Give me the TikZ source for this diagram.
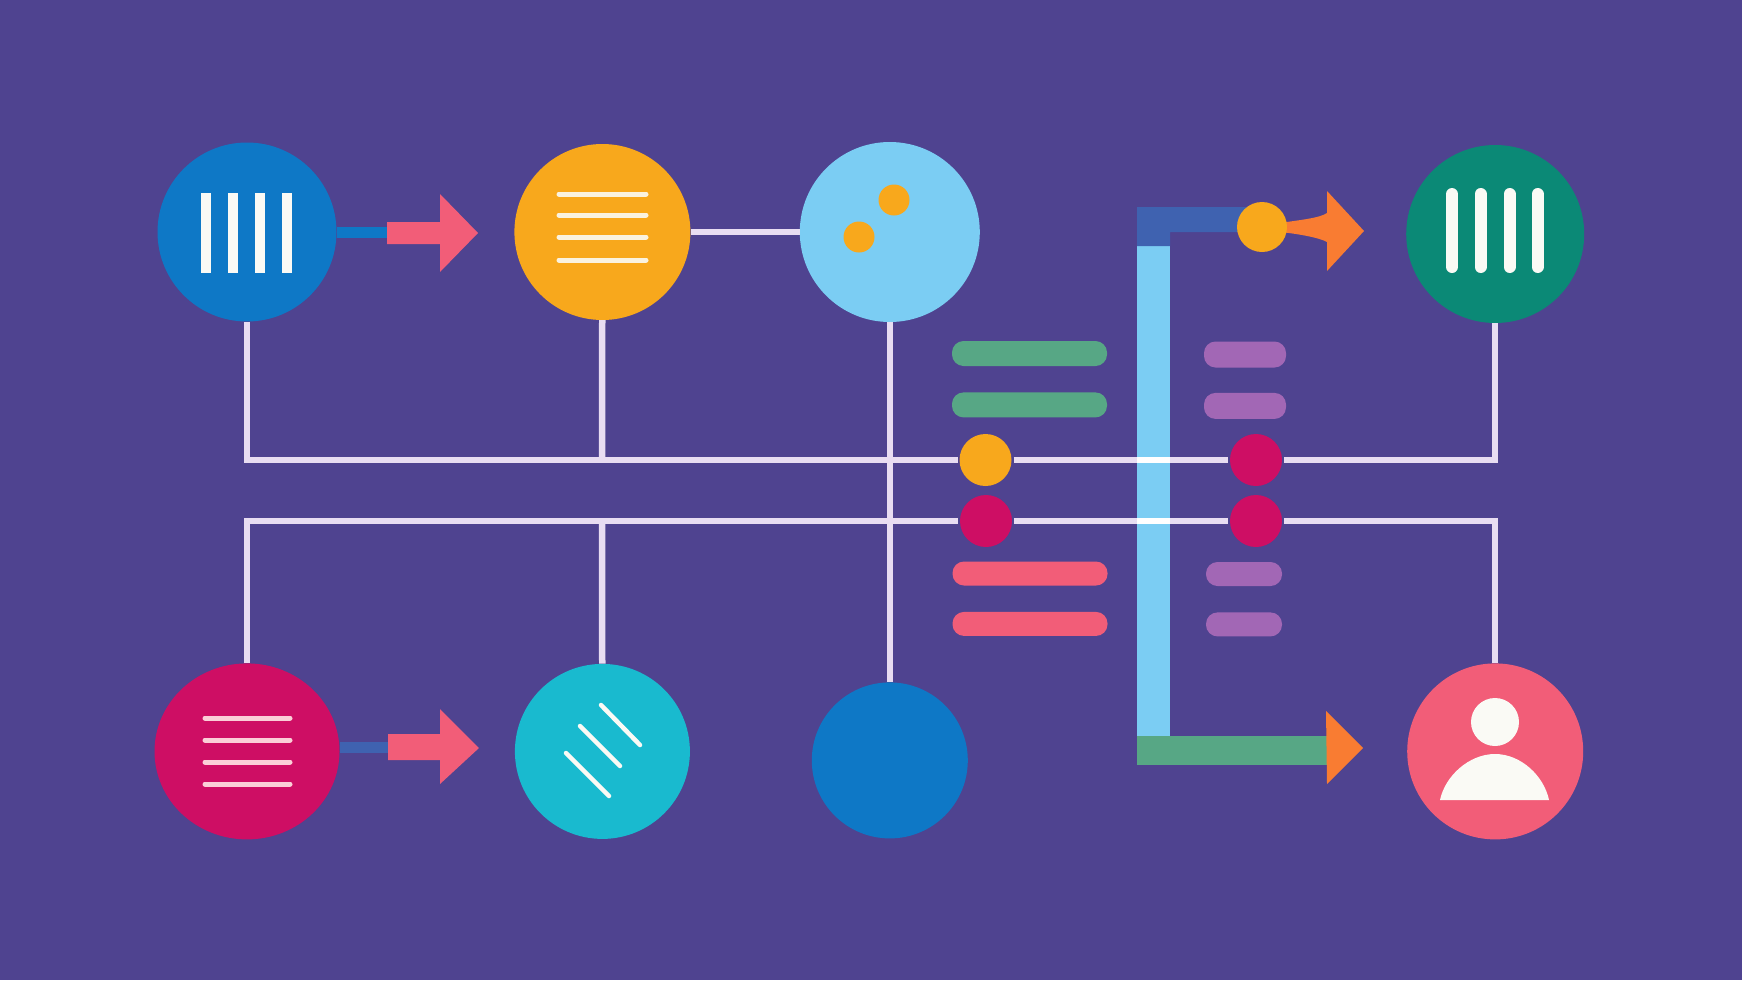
\documentclass[tikz,border=0pt]{standalone}
\usepackage{tikz}
\usetikzlibrary{positioning}
\usetikzlibrary{shapes.geometric}
\definecolor{pagebg}{HTML}{4F4390}
\definecolor{hubblue}{HTML}{0E78C6}
\definecolor{hubamber}{HTML}{F8A81C}
\definecolor{hubsky}{HTML}{7BCDF3}
\definecolor{hubgreen}{HTML}{0B8976}
\definecolor{hubberry}{HTML}{CE0E64}
\definecolor{hubteal}{HTML}{19BACF}
\definecolor{hubpink}{HTML}{F25D78}
\definecolor{tiporange}{HTML}{F97C32}
\definecolor{barsage}{HTML}{57A785}
\definecolor{barplum}{HTML}{A267B5}
\definecolor{elbowblue}{HTML}{3F62B0}
\definecolor{wirepale}{HTML}{E8DDF2}
\definecolor{glyphwhite}{HTML}{FAFAF5}

\begin{document}
\begin{tikzpicture}
          [x=1pt, y=-1pt,
           hub/.style={circle, inner sep=0pt, minimum size=179pt},
           dot/.style={circle, inner sep=0pt, outer sep=2pt, minimum size=52pt},
           bar/.style={rectangle, inner sep=0pt, rounded corners=11.5pt, minimum width=155pt, minimum height=25pt},
           wire/.style={draw=wirepale, line width=6.5pt},
           stub/.style={line width=11pt},
           column/.style={draw=hubsky, line width=33pt},
           glyph/.style={draw=glyphwhite, line cap=round}]
          \useasboundingbox (0,0) rectangle (1742,980);
          \fill[pagebg] (0,0) rectangle (1742,980);

          % thick route in the middle
          \coordinate (coltop) at (1153.5,246);
          \coordinate (colbot) at (1153.5,736);
          \draw[column] (coltop) -- (colbot);
          \fill[elbowblue] (1137,246) -- (1137,207) -- (1262,207) -- (1262,232) -- (1170,232) -- (1170,246) -- cycle;
          \fill[barsage] (1137,736) rectangle (1327,765);
          \fill[tiporange] (1326,711) -- (1363,748) -- (1327,784) -- cycle;
          \fill[tiporange] (1280,223) .. controls (1300,220) and (1320,218) .. (1327,213) -- (1327,191) -- (1364,231)
            -- (1327,271) -- (1327,242) .. controls (1320,238) and (1300,234) .. (1280,232) -- cycle;

          % the circles
          \node (bluehub) [hub, fill=hubblue] at (247,232) {};
          \node (amberhub) [hub, fill=hubamber, minimum size=176pt, right = 177.5pt of bluehub] {};
          \node (skyhub) [hub, fill=hubsky, minimum size=180pt, right = 109pt of amberhub] {};
          \node (greenhub) [hub, fill=hubgreen, minimum size=178pt, right = 426pt of skyhub, yshift=-2pt] {};
          \node (berryhub) [ellipse, inner sep=0pt, fill=hubberry, minimum width=185pt, minimum height=176pt, below = 341.5pt of bluehub] {};
          \node (tealhub) [hub, fill=hubteal, minimum size=175pt, below = 343.5pt of amberhub] {};
          \node (discblue) [hub, fill=hubblue, minimum size=156pt, below = 360pt of skyhub] {};
          \node (pinkhub) [hub, fill=hubpink, minimum size=176pt, below = 340pt of greenhub] {};

          \node (amberdot) [dot, fill=hubamber] at (985.5,460) {};
          \node (berrydota) [dot, fill=hubberry] at (1256,460) {};
          \node (berrydotb) [dot, fill=hubberry] at (986,521) {};
          \node (berrydotc) [dot, fill=hubberry] at (1256,521) {};
          \node (amberdotb) [dot, fill=hubamber, minimum size=50pt, outer sep=0pt] at (1262,227) {};

          % the bars
          \node (sagebara) [bar, fill=barsage] at (1029.5,353.5) {};
          \node (sagebarb) [bar, fill=barsage, below = 26pt of sagebara] {};
          \node (pinkbara) [bar, fill=hubpink, minimum height=24pt] at (1030,573.5) {};
          \node (pinkbarb) [bar, fill=hubpink, minimum height=24pt, below = 26pt of pinkbara] {};
          \node (plumbara) [bar, fill=barplum, minimum width=82pt, minimum height=26pt] at (1245,354.5) {};
          \node (plumbarb) [bar, fill=barplum, minimum width=82pt, minimum height=26pt, below = 25pt of plumbara] {};
          \node (plumbarc) [bar, fill=barplum, minimum width=76pt, minimum height=24pt] at (1244,574) {};
          \node (plumbard) [bar, fill=barplum, minimum width=76pt, minimum height=24pt, below = 26pt of plumbarc] {};

          % the wires
          \coordinate (amberdrop) at (602,460);
          \coordinate (tealdrop) at (602,521);
          \draw[wire] (bluehub) |- (amberdot);
          \draw[wire] (amberdot) -- (berrydota);
          \draw[wire] (berrydota) -| (greenhub);
          \draw[wire] (berryhub) |- (berrydotb);
          \draw[wire] (berrydotb) -- (berrydotc);
          \draw[wire] (berrydotc) -| (pinkhub);
          \draw[wire] (amberhub) -- (amberdrop);
          \draw[wire] (tealhub) -- (tealdrop);
          \draw[wire] (amberhub) -- (skyhub);
          \draw[wire] (skyhub) -- (discblue);
          \draw[white, line width=6.5pt] (1137,460) -- (1170,460);
          \draw[white, line width=6.5pt] (1137,521) -- (1170,521);

          % short arrows on the left
          \coordinate (stuba) at (388,232);
          \coordinate (stubb) at (388,747);
          \draw[stub, draw=hubblue] (bluehub) -- (stuba);
          \draw[stub, draw=elbowblue] (berryhub.east |- stubb) -- (stubb);
          \fill[hubpink] (387,222) -- (440,222) -- (440,194) -- (478,233) -- (440,272) -- (440,244) -- (387,244) -- cycle;
          \fill[hubpink] (388,734) -- (440,734) -- (440,709) -- (479,748) -- (440,784) -- (440,760) -- (388,760) -- cycle;

          % marks inside the circles
          \draw[glyphwhite, line width=10pt] (206,193) -- (206,273);
          \draw[glyphwhite, line width=10pt] (232.5,193) -- (232.5,273);
          \draw[glyphwhite, line width=10pt] (259.5,193) -- (259.5,273);
          \draw[glyphwhite, line width=10pt] (287,193) -- (287,273);

          \draw[glyph, line width=5pt, draw=glyphwhite!90!hubamber] (559,194) -- (646,194);
          \draw[glyph, line width=5pt, draw=glyphwhite!90!hubamber] (559,215) -- (646,215);
          \draw[glyph, line width=5pt, draw=glyphwhite!90!hubamber] (559,237) -- (646,237);
          \draw[glyph, line width=5pt, draw=glyphwhite!90!hubamber] (559,260) -- (646,260);

          \node (skyspota) [circle, fill=hubamber, inner sep=0pt, minimum size=31pt] at (894,200) {};
          \node (skyspotb) [circle, fill=hubamber, inner sep=0pt, minimum size=31pt] at (859,237) {};

          \draw[glyph, line width=12pt] (1452,194) -- (1452,267);
          \draw[glyph, line width=12pt] (1480.5,194) -- (1480.5,267);
          \draw[glyph, line width=12pt] (1509.5,194) -- (1509.5,267);
          \draw[glyph, line width=12pt] (1537.5,194) -- (1537.5,267);

          \draw[glyph, line width=5pt, draw=hubpink!30!white] (205,718) -- (290,718);
          \draw[glyph, line width=5pt, draw=hubpink!30!white] (205,740) -- (290,740);
          \draw[glyph, line width=5pt, draw=hubpink!30!white] (205,762) -- (290,762);
          \draw[glyph, line width=5pt, draw=hubpink!30!white] (205,784) -- (290,784);

          \draw[glyph, line width=4.5pt] (601,705) -- (640,745);
          \draw[glyph, line width=4.5pt] (580,726) -- (620,766);
          \draw[glyph, line width=4.5pt] (566,753) -- (609,796);

          \node (personhead) [circle, fill=glyphwhite, inner sep=0pt, minimum size=48pt] at (1495,722) {};
          \fill[glyphwhite] (1440,800) .. controls (1445,776) and (1469,754) .. (1495,754)
            .. controls (1521,754) and (1544,776) .. (1549,800) -- cycle;

        \end{tikzpicture}
\end{document}
